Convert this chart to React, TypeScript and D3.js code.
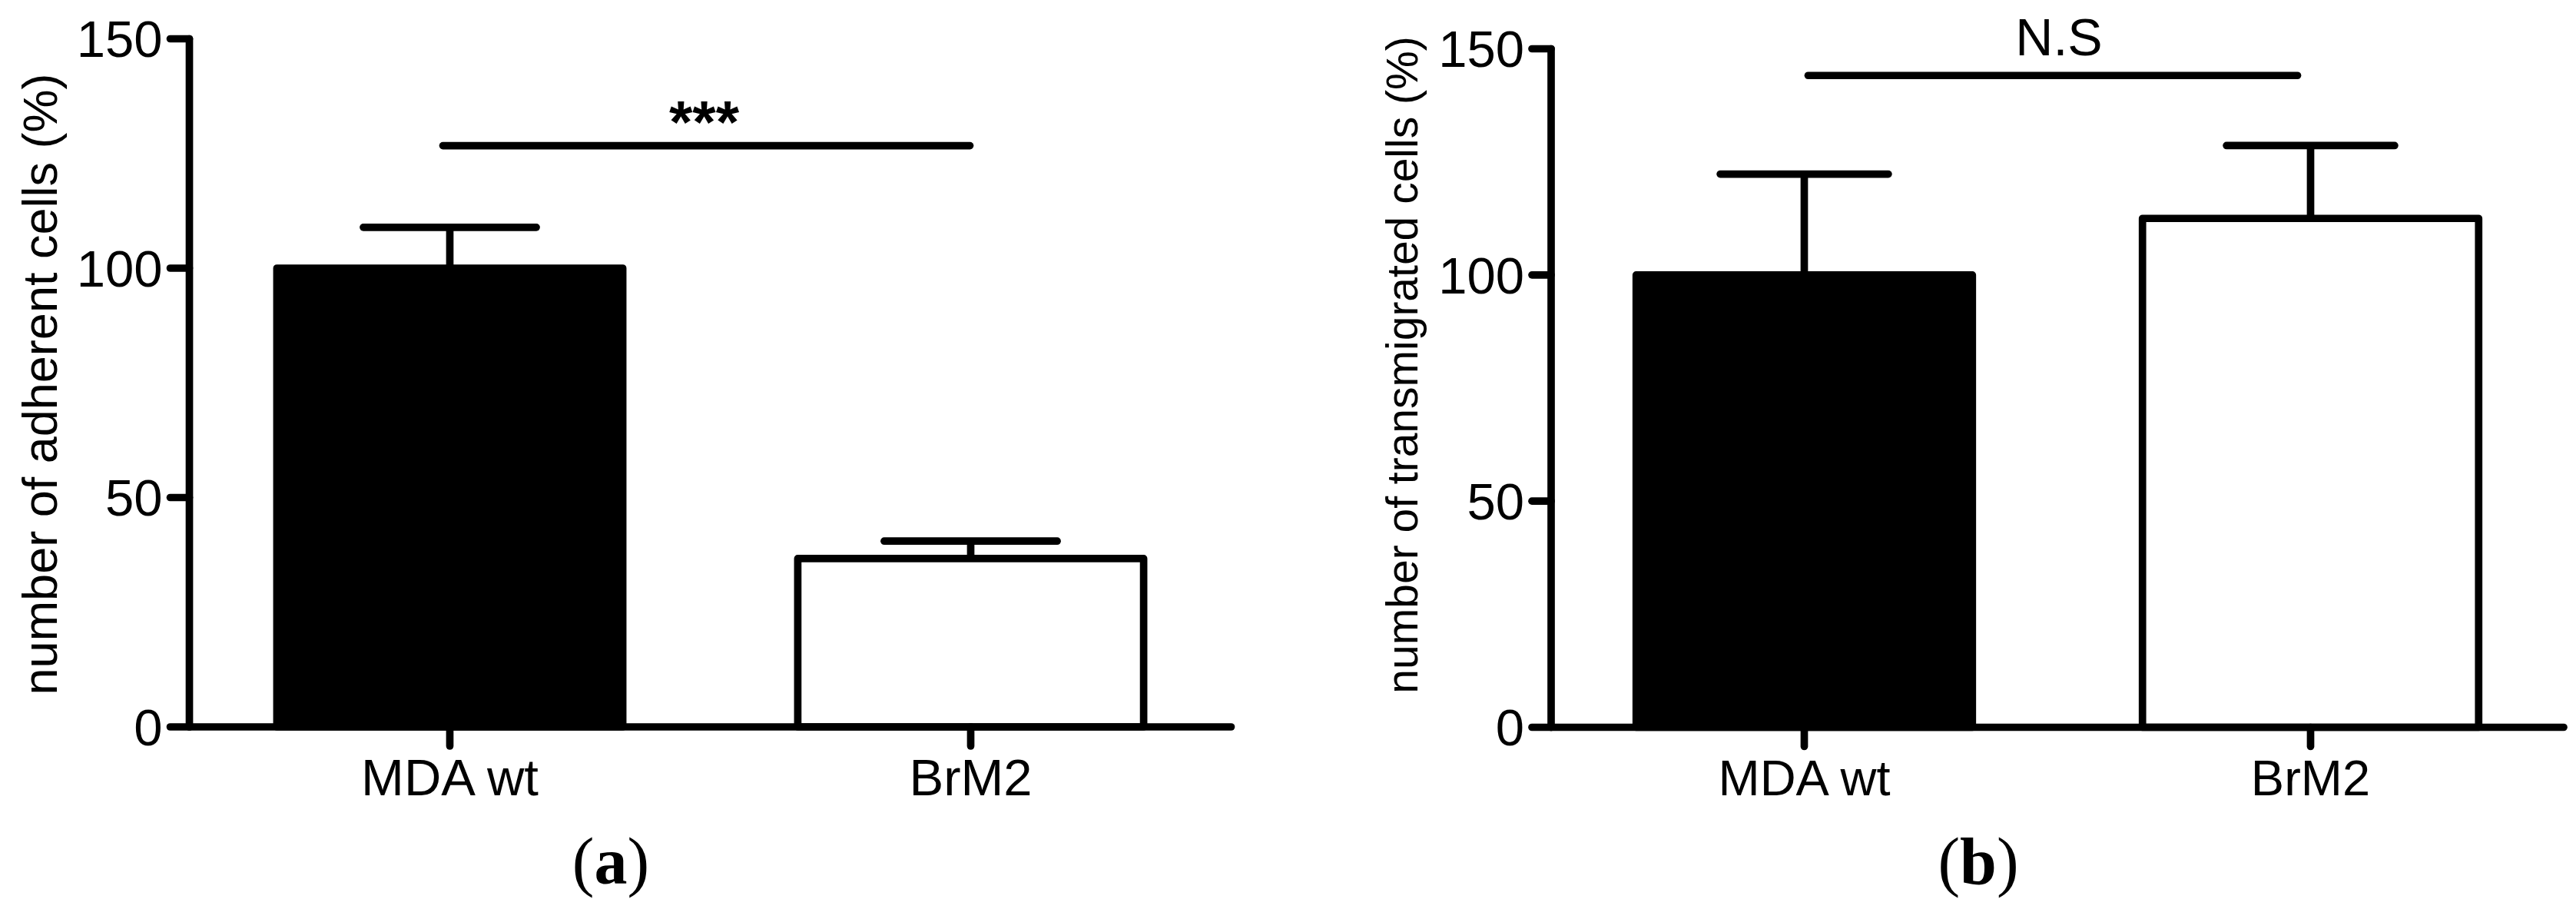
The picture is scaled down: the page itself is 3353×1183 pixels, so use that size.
import React from "react";
import * as d3 from "d3";

const categories = ["MDA wt", "BrM2"];
const adherentMeans = [100, 36.7];
const adherentSEM = [8.9, 3.8];
const transmigratedMeans = [100, 112.5];
const transmigratedSEM = [22.3, 16.1];
const yTicks = [0, 50, 100, 150];
const barFills = ["#000000", "#ffffff"];
const sigAdherent = { y: 126.7, label: "***" };
const sigTransmigrated = { y: 144.1, label: "N.S" };

const W = 3353;
const H = 1183;
const SW = 9.7;

type PanelProps = {
  means: number[];
  sem: number[];
  xRange: [number, number];
  yRange: [number, number];
  yLabel: string;
  yLabelX: number;
  yLabelY: number;
  yLabelSize: number;
  xLabelSize: number;
  sig: { y: number; label: string };
  sigOffsets: [number, number];
  sigTextDx: number;
  sigTextDy: number;
  sigBold: boolean;
  sigSize: number;
  panelLetter: string;
  letterX: number;
};

function Panel(p: PanelProps) {
  const x = d3.scaleBand<string>().domain(categories).range(p.xRange).paddingInner(0.336).paddingOuter(0.168);
  const y = d3.scaleLinear().domain([0, 150]).range(p.yRange);
  const bw = x.bandwidth();
  const axX = p.xRange[0];
  const axY = y(0);
  const cx = (c: string) => (x(c) as number) + bw / 2;
  const sigX1 = cx(categories[0]) + p.sigOffsets[0];
  const sigX2 = cx(categories[1]) + p.sigOffsets[1];
  return (
    <g>
      {categories.map((c, i) => (
        <g key={c}>
          <line x1={cx(c)} x2={cx(c)} y1={y(p.means[i])} y2={y(p.means[i] + p.sem[i])} stroke="#000" strokeWidth={SW} />
          <line x1={cx(c) - bw / 4} x2={cx(c) + bw / 4} y1={y(p.means[i] + p.sem[i])} y2={y(p.means[i] + p.sem[i])} stroke="#000" strokeWidth={SW} strokeLinecap="round" />
          <rect x={x(c)} y={y(p.means[i])} width={bw} height={axY - y(p.means[i])} fill={barFills[i]} stroke="#000" strokeWidth={SW} strokeLinejoin="round" />
        </g>
      ))}
      {/* y axis */}
      <line x1={axX} x2={axX} y1={y(150)} y2={axY} stroke="#000" strokeWidth={SW} strokeLinecap="round" />
      {yTicks.map((t) => (
        <g key={t}>
          <line x1={axX - 25} x2={axX} y1={y(t)} y2={y(t)} stroke="#000" strokeWidth={SW} strokeLinecap="round" />
          <text x={axX - 35} y={y(t)} dy="0.355em" textAnchor="end" fontFamily="'Liberation Sans', Arial, sans-serif" fontSize={67}>{t}</text>
        </g>
      ))}
      {/* x axis */}
      <line x1={axX} x2={p.xRange[1]} y1={axY} y2={axY} stroke="#000" strokeWidth={SW} strokeLinecap="round" />
      {categories.map((c) => (
        <g key={c}>
          <line x1={cx(c)} x2={cx(c)} y1={axY} y2={axY + 25} stroke="#000" strokeWidth={SW} strokeLinecap="round" />
          <text x={cx(c)} y={1035} textAnchor="middle" fontFamily="'Liberation Sans', Arial, sans-serif" fontSize={p.xLabelSize}>{c}</text>
        </g>
      ))}
      {/* significance */}
      <line x1={sigX1} x2={sigX2} y1={y(p.sig.y)} y2={y(p.sig.y)} stroke="#000" strokeWidth={SW} strokeLinecap="round" />
      <text x={(cx(categories[0]) + cx(categories[1])) / 2 + p.sigTextDx} y={y(p.sig.y) + p.sigTextDy} textAnchor="middle" fontFamily="'Liberation Sans', Arial, sans-serif" fontWeight={p.sigBold ? "bold" : "normal"} fontSize={p.sigSize}>{p.sig.label}</text>
      {/* y label */}
      <text transform={`translate(${p.yLabelX},${p.yLabelY}) rotate(-90)`} textAnchor="middle" fontFamily="'Liberation Sans', Arial, sans-serif" fontSize={p.yLabelSize}>{p.yLabel}</text>
      {/* panel letter */}
      <text x={p.letterX} y={1150} textAnchor="middle" fontFamily="'Liberation Serif', 'Times New Roman', serif" fontSize={86}>
        (<tspan fontWeight="bold">{p.panelLetter}</tspan>)
      </text>
    </g>
  );
}

export default function App() {
  return (
    <svg width={W} height={H} viewBox={`0 0 ${W} ${H}`} style={{ position: "absolute", left: 0, top: 0, display: "block", background: "#fff" }}>
      <rect width={W} height={H} fill="#fff" />
      <Panel
        means={adherentMeans}
        sem={adherentSEM}
        xRange={[246.5, 1602.5]}
        yRange={[946, 50.5]}
        yLabel="number of adherent cells (%)"
        yLabelX={74}
        yLabelY={500}
        yLabelSize={63}
        xLabelSize={67}
        sig={sigAdherent}
        sigOffsets={[-9, -1]}
        sigTextDx={-8}
        sigTextDy={-4}
        sigBold={true}
        sigSize={78}
        panelLetter="a"
        letterX={795}
      />
      <Panel
        means={transmigratedMeans}
        sem={transmigratedSEM}
        xRange={[2019, 3337]}
        yRange={[946.5, 63.5]}
        yLabel="number of transmigrated cells (%)"
        yLabelX={1845}
        yLabelY={475}
        yLabelSize={57}
        xLabelSize={65}
        sig={sigTransmigrated}
        sigOffsets={[5, -17]}
        sigTextDx={2}
        sigTextDy={-26}
        sigBold={false}
        sigSize={68}
        panelLetter="b"
        letterX={2575}
      />
    </svg>
  );
}
